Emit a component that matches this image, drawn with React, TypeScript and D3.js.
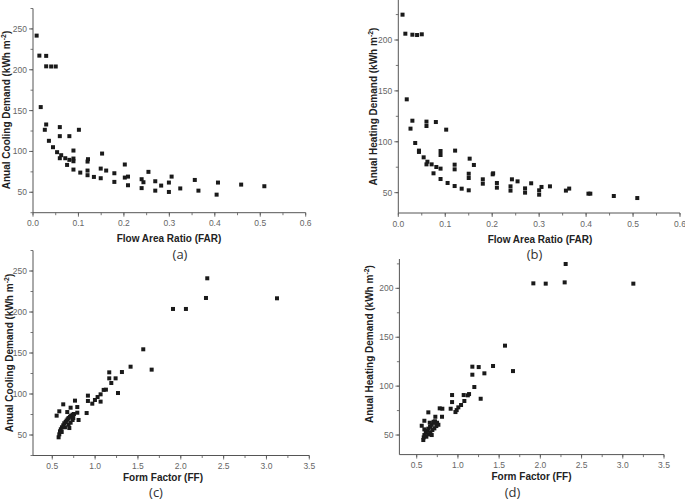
import React from "react";
import * as d3 from "d3";

// (a) Cooling vs FAR
const coolFarX = [0.008,0.014,0.029,0.029,0.040,0.050,0.017,0.029,0.026,0.059,0.059,0.080,0.101,0.035,0.044,0.053,0.062,0.059,0.071,0.080,0.089,0.089,0.089,0.075,0.089,0.104,0.120,0.121,0.120,0.120,0.134,0.149,0.149,0.152,0.161,0.179,0.179,0.202,0.202,0.209,0.209,0.239,0.239,0.243,0.254,0.269,0.269,0.282,0.299,0.299,0.305,0.324,0.356,0.364,0.407,0.404,0.458,0.509];
const coolFarY = [241.8,217.3,217,204.2,204,204,154.3,133,126.5,129.8,118.7,118.7,126.5,113,105.2,99.1,95.4,91.7,91.7,89.7,101.1,91.3,88,83.5,77.8,74.1,87.6,90.5,76.6,70.9,68.8,79,67.2,97.4,76.6,73.3,62.7,84,68,69.2,58.6,66,55.1,62.3,75,63.5,52,58.2,61.9,50.4,69.2,54.7,65.1,52,61.9,47.1,59.4,57.4];

// (b) Heating vs FAR
const heatFarX = [0.009,0.015,0.030,0.040,0.050,0.018,0.030,0.026,0.060,0.060,0.080,0.102,0.036,0.044,0.044,0.054,0.062,0.060,0.071,0.081,0.075,0.090,0.090,0.090,0.090,0.105,0.121,0.120,0.120,0.120,0.135,0.152,0.150,0.150,0.150,0.161,0.180,0.180,0.202,0.201,0.210,0.210,0.239,0.239,0.242,0.254,0.270,0.270,0.283,0.300,0.300,0.305,0.323,0.357,0.364,0.405,0.409,0.459,0.509];
const heatFarY = [224.9,206.2,205.2,204.9,205.6,141.7,120.7,112.9,119.8,115.5,119.4,111.9,98.8,91.3,90,84.7,80.4,77.8,77.8,75.2,69,90.9,87,73.6,63.4,59.5,91.3,77.5,72.9,56.5,53.9,83.4,68.6,64.4,52.3,77.2,63.1,58.8,69,68,59.5,54.9,56.2,52,63.1,61.1,54.2,50,59.2,52.3,48,55.6,56.2,52,54,49,49,46.7,44.7];

// (c) Cooling vs FF
const coolFfX = [2.309,2.294,3.123,1.909,2.060,1.562,1.660,1.414,1.313,1.165,1.165,1.239,1.189,1.267,1.126,1.100,1.064,1.064,1.029,0.998,0.967,0.916,0.916,0.901,0.765,0.628,0.551,0.582,0.714,0.792,0.792,0.807,0.675,0.574,0.582,0.590,0.600,0.613,0.628,0.640,0.656,0.667,0.679,0.690,0.706,0.720,0.737,0.753,0.610,0.648,0.699,0.714,0.737,0.690,0.745];
const coolFfY = [241.1,217.1,216.7,203.7,203.7,154.5,129.7,133.3,126.8,126.4,119.1,119.1,113.4,101.2,105.3,105,99.6,90.7,96.3,92.7,88.2,98,91.5,76.8,91.9,87.4,73.6,78.9,83.3,84.1,77.2,68.3,78,47.2,50.8,54.5,57,59.4,61.8,64.3,65.9,67.5,69.1,70.7,72.3,73.5,74.8,75.6,53.7,59.4,58.5,65,68.3,62.6,70.7];

// (d) Heating vs FF
const heatFfX = [2.307,1.915,2.065,2.295,3.128,1.571,1.668,1.426,1.321,1.175,1.175,1.252,1.199,1.276,1.135,1.120,1.070,1.078,1.038,1.005,0.985,0.970,0.929,0.929,0.912,0.807,0.779,0.811,0.726,0.641,0.593,0.561,0.580,0.585,0.593,0.610,0.625,0.641,0.662,0.682,0.702,0.722,0.747,0.763,0.617,0.641,0.666,0.690,0.714,0.738,0.682,0.706,0.658,0.593];
const heatFfY = [224.9,205.1,204.8,206.1,204.8,141.4,115.4,120.6,113.1,119.9,111.7,119.5,99.1,87.1,91.9,90.6,90.9,84.8,80.7,78.3,75.5,73.5,90.9,83.7,76.9,68.7,77.3,76.9,68.7,73.2,64.6,59.5,44.9,47.6,50,52.4,54.4,56.5,58.5,60.5,62.6,64,62.6,60.5,48.3,50.7,52.7,55.1,56.8,59.2,50,63.6,62.6,55.8];

const farTicks = [0, 0.1, 0.2, 0.3, 0.4, 0.5, 0.6];
const ffTicks = [0.5, 1.0, 1.5, 2.0, 2.5, 3.0, 3.5];
const coolYTicks = [50, 100, 150, 200, 250];
const heatYTicks = [50, 100, 150, 200];

type PanelProps = {
  xs: number[]; ys: number[];
  xDomain: [number, number]; yDomain: [number, number];
  xRange: [number, number]; yRange: [number, number];
  xTicks: number[]; yTicks: number[]; xFmt: (v: number) => string;
  xMinorStep: number; yMinorStep: number;
  xTitle: string; yTitle: string;
  xTitlePos: [number, number]; yTitlePos: [number, number];
  tag: string; tagPos: [number, number];
};

const Panel = (p: PanelProps) => {
  const x = d3.scaleLinear().domain(p.xDomain).range(p.xRange);
  const y = d3.scaleLinear().domain(p.yDomain).range(p.yRange);
  const x0 = p.xRange[0];
  const y0 = p.yRange[0];
  const axisCol = "#555";
  const xMinor = d3.range(Math.ceil(p.xDomain[0] / p.xMinorStep) * p.xMinorStep, p.xDomain[1] + 1e-9, p.xMinorStep);
  const yMinor = d3.range(Math.ceil(p.yDomain[0] / p.yMinorStep) * p.yMinorStep, p.yDomain[1] + 1e-9, p.yMinorStep);
  const sz = 4;
  return (
    <g>
      <line x1={x0} x2={p.xRange[1]} y1={y0} y2={y0} stroke={axisCol} strokeWidth={1} />
      <line x1={x0} x2={x0} y1={y0} y2={p.yRange[1]} stroke={axisCol} strokeWidth={1} />
      {xMinor.map((v, i) => (
        <line key={"xm" + i} x1={x(v)} x2={x(v)} y1={y0} y2={y0 + 2.5} stroke={axisCol} strokeWidth={0.8} />
      ))}
      {p.xTicks.map((v, i) => (
        <g key={"xt" + i}>
          <line x1={x(v)} x2={x(v)} y1={y0} y2={y0 + 4} stroke={axisCol} strokeWidth={0.8} />
          <text x={x(v)} y={y0 + 13.5} textAnchor="middle" fontSize={8.5} fill="#666" fontFamily="Liberation Sans, Arial, sans-serif">{p.xFmt(v)}</text>
        </g>
      ))}
      {yMinor.map((v, i) => (
        <line key={"ym" + i} x1={x0} x2={x0 - 2.5} y1={y(v)} y2={y(v)} stroke={axisCol} strokeWidth={0.8} />
      ))}
      {p.yTicks.map((v, i) => (
        <g key={"yt" + i}>
          <line x1={x0} x2={x0 - 4} y1={y(v)} y2={y(v)} stroke={axisCol} strokeWidth={0.8} />
          <text x={x0 - 6} y={y(v) + 3} textAnchor="end" fontSize={8.5} fill="#666" fontFamily="Liberation Sans, Arial, sans-serif">{v}</text>
        </g>
      ))}
      {p.xs.map((xv, i) => (
        <rect key={"pt" + i} x={x(xv) - sz / 2} y={y(p.ys[i]) - sz / 2} width={sz} height={sz} fill="#1a1a1a" />
      ))}
      <text x={p.xTitlePos[0]} y={p.xTitlePos[1]} textAnchor="middle" fontSize={10} fontWeight="bold" fill="#222" fontFamily="Liberation Sans, Arial, sans-serif">{p.xTitle}</text>
      <text transform={`translate(${p.yTitlePos[0]},${p.yTitlePos[1]}) rotate(-90)`} textAnchor="middle" dy="0.35em" fontSize={10} fontWeight="bold" fill="#222" fontFamily="Liberation Sans, Arial, sans-serif">
        {p.yTitle} (kWh m<tspan dy="-4" fontSize={7}>-2</tspan><tspan dy="4">)</tspan>
      </text>
      <text x={p.tagPos[0]} y={p.tagPos[1]} textAnchor="middle" fontSize={13} fill="#333" fontFamily="Open Sans, sans-serif">{p.tag}</text>
    </g>
  );
};

const fmt1 = (v: number) => v.toFixed(1);

export default function App() {
  return (
    <svg width={685} height={499} style={{ position: "absolute", left: 0, top: 0, background: "#fff" }}>
      <Panel xs={coolFarX} ys={coolFarY} xDomain={[0, 0.6]} yDomain={[25, 275]} xRange={[33, 305.7]} yRange={[212.7, 8.5]}
        xTicks={farTicks} yTicks={coolYTicks} xFmt={fmt1} xMinorStep={0.05} yMinorStep={25}
        xTitle="Flow Area Ratio (FAR)" yTitle="Anual Cooling Demand" xTitlePos={[169, 241.5]} yTitlePos={[6.5, 110]}
        tag="(a)" tagPos={[180, 259]} />
      <Panel xs={heatFarX} ys={heatFarY} xDomain={[0, 0.6]} yDomain={[30, 240]} xRange={[398.3, 680]} yRange={[213, -0.7]}
        xTicks={farTicks} yTicks={heatYTicks} xFmt={fmt1} xMinorStep={0.05} yMinorStep={25}
        xTitle="Flow Area Ratio (FAR)" yTitle="Anual Heating Demand" xTitlePos={[540, 242.5]} yTitlePos={[373, 106.5]}
        tag="(b)" tagPos={[534.5, 259]} />
      <Panel xs={coolFfX} ys={coolFfY} xDomain={[0.275, 3.5]} yDomain={[25, 275]} xRange={[33, 309.3]} yRange={[455.5, 250.5]}
        xTicks={ffTicks} yTicks={coolYTicks} xFmt={fmt1} xMinorStep={0.25} yMinorStep={25}
        xTitle="Form Factor (FF)" yTitle="Anual Cooling Demand" xTitlePos={[163, 480.5]} yTitlePos={[9, 353]}
        tag="(c)" tagPos={[156, 496.5]} />
      <Panel xs={heatFfX} ys={heatFfY} xDomain={[0.29, 3.5]} yDomain={[30, 230]} xRange={[399.4, 664]} yRange={[454.6, 259]}
        xTicks={ffTicks} yTicks={heatYTicks} xFmt={fmt1} xMinorStep={0.25} yMinorStep={25}
        xTitle="Form Factor (FF)" yTitle="Anual Heating Demand" xTitlePos={[531.5, 480]} yTitlePos={[369, 344]}
        tag="(d)" tagPos={[512.5, 496.5]} />
    </svg>
  );
}
